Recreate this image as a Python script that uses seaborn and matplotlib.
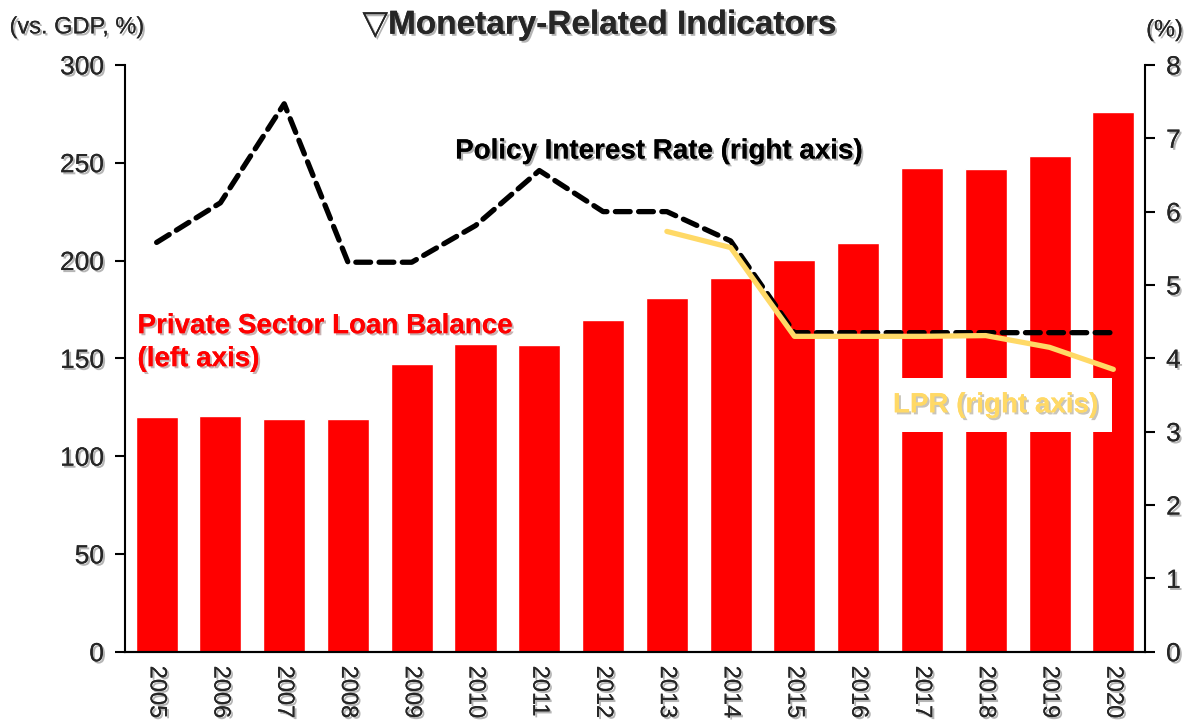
import numpy as np
import pandas as pd
import matplotlib
matplotlib.use('Agg')
import matplotlib.pyplot as plt
import matplotlib.patheffects as pe
import seaborn as sns

# values
years = ['2005', '2006', '2007', '2008', '2009', '2010', '2011', '2012',
         '2013', '2014', '2015', '2016', '2017', '2018', '2019', '2020']
loan_balance = [120, 120.5, 119, 119, 147, 157.5, 157, 169.5,
                181, 191, 200.5, 209, 247.5, 247, 253.5, 276]
policy_rate = [5.58, 6.12, 7.47, 5.31, 5.31, 5.81, 6.56, 6.0,
               6.0, 5.6, 4.35, 4.35, 4.35, 4.35, 4.35, 4.35]
lpr = [np.nan] * 8 + [5.73, 5.51, 4.3, 4.3, 4.3, 4.31, 4.15, 3.85]

RED = '#FF0000'
GOLD = '#FFD966'

sns.set_style('white')
plt.rcParams['font.family'] = ['Liberation Sans Narrow', 'Liberation Sans', 'DejaVu Sans']

shadow = [pe.withSimplePatchShadow(offset=(1.5, -1.5), alpha=0.3), pe.Normal()]

df = pd.DataFrame({'year': years, 'loan': loan_balance,
                   'policy': policy_rate, 'lpr': lpr})
df['pos'] = np.arange(len(df))

fig = plt.figure(figsize=(11.88, 7.21), dpi=100)
ax = fig.add_axes([0.105, 0.096, 0.859, 0.814])

sns.barplot(data=df, x='year', y='loan', color=RED, saturation=1, width=0.66, ax=ax)
ax.set_ylim(0, 300)
ax.set_xlim(-0.5, len(years) - 0.5)
ax.set_yticks(range(0, 301, 50))

ax2 = ax.twinx()
sns.lineplot(data=df, x='pos', y='policy', color='black', lw=3.8, ax=ax2)
ax2.lines[0].set_dashes((2.8, 1.6))
ax2.lines[0].set_dash_capstyle('round')
sns.lineplot(data=df.dropna(), x='pos', y='lpr', color=GOLD, lw=3.8, ax=ax2)
ax2.set_ylim(0, 8)
ax2.set_yticks(range(0, 9))
ax2.set_xlim(-0.5, len(years) - 0.5)

for a in (ax, ax2):
    a.set_xlabel('')
    a.set_ylabel('')
    a.spines['top'].set_visible(False)
    for s in ('left', 'right', 'bottom'):
        a.spines[s].set_color('black')
        a.spines[s].set_linewidth(1.5)
    a.grid(False)

ax.spines['right'].set_visible(False)
ax2.spines['left'].set_visible(False)

# category labels at centres, ticks at boundaries
ax.set_xticks(np.arange(len(years)))
ax.set_xticklabels(years, rotation=-90, fontsize=17)
ax.set_xticks(np.arange(-0.5, len(years)), minor=True)
ax.tick_params(axis='x', which='major', length=0, pad=10)
ax.tick_params(axis='x', which='minor', length=7, width=1.5, direction='out', color='black')
ax.tick_params(axis='y', labelsize=19, length=7, width=1.5, direction='out', color='black', pad=8)
ax2.tick_params(axis='y', labelsize=19, length=7, width=1.5, direction='out', color='black', pad=8)

for lab in ax.get_xticklabels() + ax.get_yticklabels() + ax2.get_yticklabels():
    lab.set_path_effects(shadow)

fig.text(0.505, 0.965, '\u25bdMonetary-Related Indicators', ha='center', va='center',
         fontsize=24, fontweight='bold', path_effects=shadow)
fig.text(0.008, 0.962, '(vs. GDP, %)', ha='left', va='center', fontsize=17, path_effects=shadow)
fig.text(0.996, 0.958, '(%)', ha='right', va='center', fontsize=17, path_effects=shadow)

ax2.text(4.68, 6.82, 'Policy Interest Rate (right axis)', ha='left', va='center',
         fontsize=20, fontweight='bold', color='black', path_effects=shadow)
ax.text(-0.3, 158, 'Private Sector Loan Balance\n(left axis)', ha='left', va='center',
        fontsize=20, fontweight='bold', color=RED, linespacing=1.35, path_effects=shadow)
ax2.text(13.15, 3.36, 'LPR (right axis)', ha='center', va='center',
         fontsize=20, fontweight='bold', color=GOLD, path_effects=shadow,
         bbox=dict(boxstyle='square,pad=0.5', fc='white', ec='none'))

fig.savefig('out.png', dpi=100)
